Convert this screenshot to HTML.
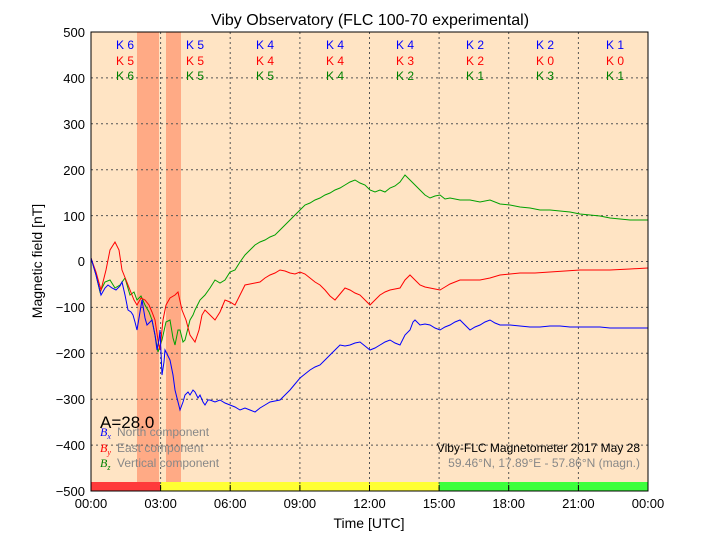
<!DOCTYPE html>
<html><head><meta charset="utf-8"><style>
body{margin:0;background:#fff;}
svg{display:block;font-family:"Liberation Sans",sans-serif;}
</style></head><body>
<svg width="720" height="540" xmlns="http://www.w3.org/2000/svg">
<rect x="0" y="0" width="720" height="540" fill="#fff"/>
<rect x="91" y="32" width="557" height="459" fill="#ffe4c4"/>
<rect x="137" y="32" width="22" height="450" fill="#ffa07a" fill-opacity="0.85"/>
<rect x="166" y="32" width="15" height="450" fill="#ffa07a" fill-opacity="0.85"/>
<rect x="91" y="482" width="69" height="9" fill="#ff3b3b"/>
<rect x="160" y="482" width="279" height="9" fill="#ffff33"/>
<rect x="439" y="482" width="209" height="9" fill="#3cff3c"/>
<g stroke="#555" stroke-width="1" stroke-dasharray="2,3">
<line x1="160.6" y1="32" x2="160.6" y2="491"/><line x1="230.2" y1="32" x2="230.2" y2="491"/><line x1="299.9" y1="32" x2="299.9" y2="491"/><line x1="369.5" y1="32" x2="369.5" y2="491"/><line x1="439.1" y1="32" x2="439.1" y2="491"/><line x1="508.7" y1="32" x2="508.7" y2="491"/><line x1="578.4" y1="32" x2="578.4" y2="491"/>
<line x1="91" y1="77.9" x2="648" y2="77.9"/><line x1="91" y1="123.8" x2="648" y2="123.8"/><line x1="91" y1="169.7" x2="648" y2="169.7"/><line x1="91" y1="215.6" x2="648" y2="215.6"/><line x1="91" y1="261.5" x2="648" y2="261.5"/><line x1="91" y1="307.4" x2="648" y2="307.4"/><line x1="91" y1="353.3" x2="648" y2="353.3"/><line x1="91" y1="399.2" x2="648" y2="399.2"/><line x1="91" y1="445.1" x2="648" y2="445.1"/>
</g>
<g fill="none" stroke-width="1">
<polyline stroke="#00a000" stroke="green" points="91,258 96,275 100,292 105,282 110,280 115,288 120,285 125,278 130,295 134,292 137,300 141,296 145,305 149,312 152,320 155,335 158,352 162,340 166,322 170,320 173,338 175,345 178,330 180,330 183,342 185,340 188,328 190,320 193,315 195,310 200,300 205,295 210,288 215,280 220,283 225,280 230,272 235,270 240,262 245,255 250,250 255,245 260,242 265,240 270,237 275,235 280,230 285,225 290,220 295,215 300,210 305,205 310,203 315,200 320,198 325,195 330,193 335,190 340,188 345,185 350,182 355,180 360,183 365,185 370,190 375,192 380,190 385,192 390,188 395,186 400,182 405,175 410,180 415,185 420,190 425,195 430,198 435,196 440,195 445,199 450,198 460,200 470,200 480,202 490,200 500,204 510,205 520,207 530,208 540,210 550,210 560,211 570,212 580,214 590,215 600,216 610,218 620,219 630,220 640,220 648,220"/>
<polyline stroke="#ff0000" points="91,258 96,272 101,290 106,270 110,250 115,242 119,250 122,270 126,280 130,290 134,300 137,305 141,298 145,300 149,305 152,312 155,320 158,340 160,350 163,320 166,305 170,298 175,295 178,292 182,310 186,320 190,335 195,342 199,330 202,315 205,310 210,315 215,320 220,312 225,300 230,302 235,305 240,295 245,285 250,284 255,283 260,282 265,278 270,275 275,273 280,270 285,271 290,273 295,274 300,272 305,274 310,278 315,282 320,285 325,290 330,296 335,300 340,294 345,288 350,290 355,293 360,295 365,300 370,305 375,300 380,295 385,292 390,290 395,289 400,288 405,280 410,275 415,280 420,285 425,287 430,288 435,289 440,290 445,287 450,284 455,282 460,280 470,280 480,280 490,278 500,275 510,274 520,273 535,273 550,272 565,271 580,270 595,270 610,270 630,269 648,268"/>
<polyline stroke="#0000ff" points="91,258 96,275 101,295 105,288 108,285 112,288 116,290 120,286 122,282 125,295 128,310 131,312 133,315 135,322 137,330 140,312 142,300 145,318 147,325 150,322 152,320 155,335 157,350 159,340 160,330 162,375 164,362 165,350 168,356 170,360 173,375 175,390 178,402 180,410 183,402 185,395 188,392 190,395 193,390 195,392 198,398 200,395 203,402 205,405 208,400 210,400 215,402 220,400 225,403 230,405 235,407 240,410 245,408 250,410 255,412 260,408 265,405 270,402 275,401 280,400 285,395 290,390 295,384 300,378 305,374 310,370 315,367 320,365 325,360 330,355 335,350 340,345 345,346 350,345 355,343 360,342 365,346 370,350 375,348 380,345 385,342 390,340 395,343 400,345 405,335 410,330 413,322 415,320 420,325 425,324 430,325 435,328 440,330 445,327 450,325 455,322 460,320 465,325 470,330 475,327 480,325 485,322 490,320 495,323 500,325 510,325 520,326 530,327 540,327 550,326 560,326 570,327 580,327 590,327 600,327 610,328 620,328 630,328 640,328 648,328"/>
</g>
<rect x="91" y="32" width="557" height="459" fill="none" stroke="#000" stroke-width="1"/>
<g stroke="#000">
<line x1="160.6" y1="491" x2="160.6" y2="485"/><line x1="230.2" y1="491" x2="230.2" y2="485"/><line x1="299.9" y1="491" x2="299.9" y2="485"/><line x1="369.5" y1="491" x2="369.5" y2="485"/><line x1="439.1" y1="491" x2="439.1" y2="485"/><line x1="508.7" y1="491" x2="508.7" y2="485"/><line x1="578.4" y1="491" x2="578.4" y2="485"/>
</g>
<text x="370" y="25" font-size="16" text-anchor="middle">Viby Observatory (FLC 100-70 experimental)</text>
<g font-size="13" text-anchor="end">
<text x="85" y="37">500</text><text x="85" y="83">400</text><text x="85" y="129">300</text><text x="85" y="175">200</text><text x="85" y="221">100</text><text x="85" y="266">0</text><text x="85" y="312">−100</text><text x="85" y="358">−200</text><text x="85" y="404">−300</text><text x="85" y="450">−400</text><text x="85" y="496">−500</text>
</g>
<g font-size="13" text-anchor="middle">
<text x="91" y="508">00:00</text><text x="160.6" y="508">03:00</text><text x="230.2" y="508">06:00</text><text x="299.9" y="508">09:00</text><text x="369.5" y="508">12:00</text><text x="439.1" y="508">15:00</text><text x="508.7" y="508">18:00</text><text x="578.4" y="508">21:00</text><text x="648" y="508">00:00</text>
</g>
<text x="369" y="528" font-size="14" text-anchor="middle">Time [UTC]</text>
<text transform="translate(42,261) rotate(-90)" font-size="14" text-anchor="middle">Magnetic field [nT]</text>
<g font-size="12" text-anchor="middle">
<g fill="#0000ff"><text x="125" y="49">K 6</text><text x="195" y="49">K 5</text><text x="265" y="49">K 4</text><text x="335" y="49">K 4</text><text x="405" y="49">K 4</text><text x="475" y="49">K 2</text><text x="545" y="49">K 2</text><text x="615" y="49">K 1</text></g>
<g fill="#ff0000"><text x="125" y="65">K 5</text><text x="195" y="65">K 5</text><text x="265" y="65">K 4</text><text x="335" y="65">K 4</text><text x="405" y="65">K 3</text><text x="475" y="65">K 2</text><text x="545" y="65">K 0</text><text x="615" y="65">K 0</text></g>
<g fill="#008000"><text x="125" y="80">K 6</text><text x="195" y="80">K 5</text><text x="265" y="80">K 5</text><text x="335" y="80">K 4</text><text x="405" y="80">K 2</text><text x="475" y="80">K 1</text><text x="545" y="80">K 3</text><text x="615" y="80">K 1</text></g>
</g>
<text x="100" y="428" font-size="17">A=28.0</text>
<g font-size="12">
<text x="100" y="436" fill="#0000ff" font-family="Liberation Serif" font-style="italic">B<tspan font-size="8" dy="3">x</tspan></text>
<text x="117" y="436" fill="#888">North component</text>
<text x="100" y="452" fill="#ff0000" font-family="Liberation Serif" font-style="italic">B<tspan font-size="8" dy="3">y</tspan></text>
<text x="117" y="452" fill="#888">East component</text>
<text x="100" y="467" fill="#008000" font-family="Liberation Serif" font-style="italic">B<tspan font-size="8" dy="3">z</tspan></text>
<text x="117" y="467" fill="#888">Vertical component</text>
<text x="640" y="452" text-anchor="end">Viby-FLC Magnetometer 2017 May 28</text>
<text x="640" y="467" text-anchor="end" fill="#888">59.46°N, 17.89°E - 57.86°N (magn.)</text>
</g>
</svg>
</body></html>
